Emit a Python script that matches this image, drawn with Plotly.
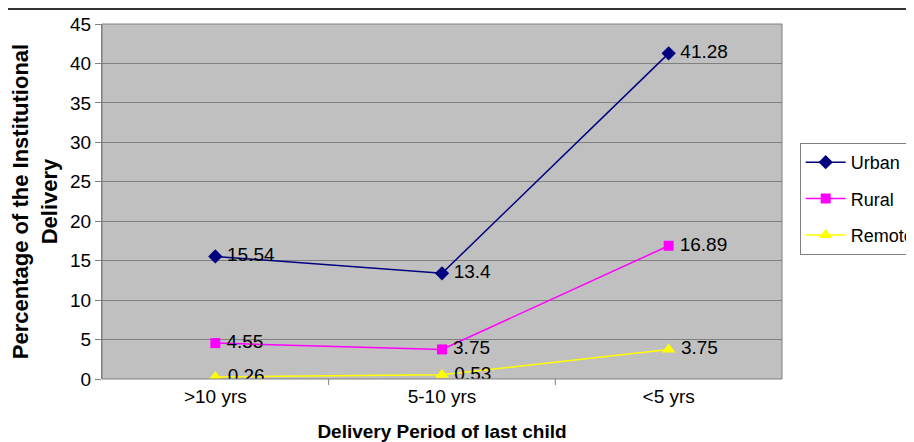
import plotly.graph_objects as go

categories = [">10 yrs", "5-10 yrs", "<5 yrs"]
urban = [15.54, 13.4, 41.28]
rural = [4.55, 3.75, 16.89]
remote = [0.26, 0.53, 3.75]
y_ticks = [0, 5, 10, 15, 20, 25, 30, 35, 40, 45]

FONT = "Liberation Sans, Arial, sans-serif"

fig = go.Figure()
series = [
    ("Urban", urban, "#000080", "diamond", 11),
    ("Rural", rural, "#FF00FF", "square", 10),
    ("Remote", remote, "#FFFF00", "triangle-up", 12),
]
for name, vals, col, sym, sz in series:
    fig.add_trace(go.Scatter(
        x=categories, y=vals, name=name, legendgroup=name,
        mode="lines+markers+text",
        line=dict(color=col, width=1.5),
        marker=dict(symbol=sym, size=sz, color=col),
        text=["\u2009" + str(v) for v in vals], textposition="middle right",
        textfont=dict(size=19, color="black", family=FONT),
    ))

fig.update_layout(
    width=906, height=434,
    margin=dict(l=94, r=132, t=16, b=63, autoexpand=False),
    paper_bgcolor="white", plot_bgcolor="#C0C0C0",
    font=dict(family=FONT, size=19, color="black"),
    showlegend=True,
    legend=dict(x=1.026, y=0.665, xanchor="left", yanchor="top",
                bgcolor="white", bordercolor="#808080", borderwidth=1,
                font=dict(size=18), tracegroupgap=10, itemwidth=40),
    xaxis=dict(range=[-0.5, 2.5], showgrid=False, showline=False,
               ticks="", tickfont=dict(size=19), automargin=False, ticklabelstandoff=4,
               title=dict(text="<b>Delivery Period of last child</b>", font=dict(size=19), standoff=20),
               zeroline=False),
    yaxis=dict(range=[0, 45], tickvals=y_ticks, showgrid=True, gridcolor="#808080", gridwidth=1,
               showline=True, linecolor="#808080", linewidth=1, ticks="outside", ticklen=6,
               tickcolor="#808080", tickfont=dict(size=19), zeroline=False, automargin=False,
               title=dict(text="<b>Percentage of the Institutional<br>Delivery</b>",
                          font=dict(size=22), standoff=12)),
    shapes=[
        dict(type="rect", xref="paper", yref="paper", x0=0, x1=1, y0=0, y1=1,
             line=dict(color="#808080", width=1)),
        dict(type="line", xref="paper", yref="paper", x0=-0.2, x1=1.25, y0=1.042, y1=1.042,
             line=dict(color="#333333", width=2)),
        dict(type="line", xref="x", yref="paper", x0=0.5, x1=0.5, y0=0, y1=-0.017,
             line=dict(color="#808080", width=1)),
        dict(type="line", xref="x", yref="paper", x0=1.5, x1=1.5, y0=0, y1=-0.017,
             line=dict(color="#808080", width=1)),
    ],
)

fig.write_html("out.html")
